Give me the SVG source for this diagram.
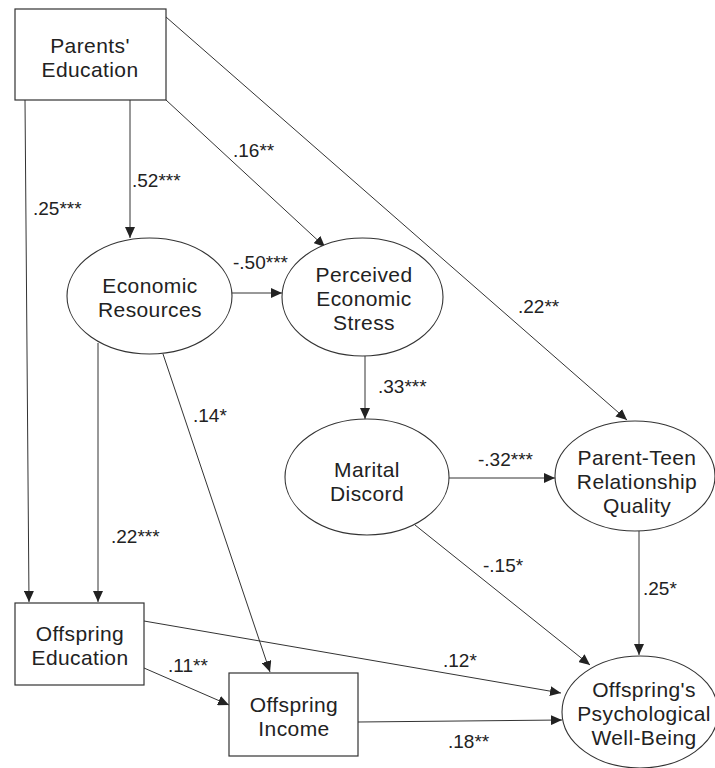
<svg xmlns="http://www.w3.org/2000/svg" width="715" height="768" viewBox="0 0 715 768">
<style>
.box{fill:#fff;stroke:#333;stroke-width:1.2}
.ell{fill:#fff;stroke:#333;stroke-width:1.1}
.nt{font-family:"Liberation Sans",Arial,sans-serif;font-size:21px;letter-spacing:0.4px;fill:#222;text-anchor:middle}
.lb{font-family:"Liberation Sans",Arial,sans-serif;font-size:19px;fill:#222}
.cn line{stroke:#333;stroke-width:1;marker-end:url(#ah)}
</style>
<defs>
<marker id="ah" markerUnits="userSpaceOnUse" markerWidth="12" markerHeight="10" refX="11" refY="5" orient="auto">
<path d="M0,0 L11,5 L0,10 Z" fill="#222"/>
</marker>
</defs>
<rect width="715" height="768" fill="#fff"/>
<g id="connectors" class="cn">
<line x1="25" y1="100" x2="29" y2="602"/>
<line x1="130" y1="100" x2="130" y2="238"/>
<line x1="166" y1="100" x2="325" y2="247"/>
<line x1="166" y1="17" x2="627" y2="420"/>
<line x1="232" y1="293" x2="282" y2="293"/>
<line x1="98" y1="343" x2="98" y2="602"/>
<line x1="163" y1="354" x2="270" y2="672"/>
<line x1="365" y1="356" x2="365" y2="419"/>
<line x1="449" y1="478" x2="555" y2="478"/>
<line x1="415" y1="525" x2="590" y2="665"/>
<line x1="639" y1="531" x2="639" y2="655"/>
<line x1="144" y1="668" x2="229" y2="705"/>
<line x1="144" y1="621" x2="561" y2="693"/>
<line x1="358" y1="722" x2="562" y2="720"/>
</g>
<g id="labels">
<text class="lb" x="33" y="215">.25***</text>
<text class="lb" x="132" y="187">.52***</text>
<text class="lb" x="233" y="157">.16**</text>
<text class="lb" x="233" y="269">-.50***</text>
<text class="lb" x="518" y="313">.22**</text>
<text class="lb" x="193" y="422">.14*</text>
<text class="lb" x="378" y="393">.33***</text>
<text class="lb" x="478" y="466">-.32***</text>
<text class="lb" x="111" y="543">.22***</text>
<text class="lb" x="643" y="595">.25*</text>
<text class="lb" x="483" y="572">-.15*</text>
<text class="lb" x="168" y="672">.11**</text>
<text class="lb" x="443" y="667">.12*</text>
<text class="lb" x="448" y="748">.18**</text>
</g>
<g id="parents-education">
<rect class="box" x="15" y="9" width="151" height="91"/>
<text class="nt" x="90" y="53">Parents'</text>
<text class="nt" x="90" y="77">Education</text>
</g>
<g id="economic-resources">
<ellipse class="ell" cx="149.5" cy="296" rx="82.5" ry="58"/>
<text class="nt" x="150" y="293">Economic</text>
<text class="nt" x="150" y="317">Resources</text>
</g>
<g id="perceived-economic-stress">
<ellipse class="ell" cx="362.5" cy="297" rx="80.5" ry="59"/>
<text class="nt" x="364" y="282">Perceived</text>
<text class="nt" x="364" y="306">Economic</text>
<text class="nt" x="364" y="330">Stress</text>
</g>
<g id="marital-discord">
<ellipse class="ell" cx="367" cy="477" rx="82" ry="58"/>
<text class="nt" x="367" y="477">Marital</text>
<text class="nt" x="367" y="501">Discord</text>
</g>
<g id="parent-teen-relationship-quality">
<ellipse class="ell" cx="635" cy="476" rx="80" ry="55"/>
<text class="nt" x="637" y="465">Parent-Teen</text>
<text class="nt" x="637" y="489">Relationship</text>
<text class="nt" x="637" y="513">Quality</text>
</g>
<g id="offspring-education">
<rect class="box" x="15" y="603" width="129" height="82"/>
<text class="nt" x="80" y="641">Offspring</text>
<text class="nt" x="80" y="665">Education</text>
</g>
<g id="offspring-income">
<rect class="box" x="229" y="673" width="129" height="83"/>
<text class="nt" x="294" y="712">Offspring</text>
<text class="nt" x="294" y="736">Income</text>
</g>
<g id="offspring-well-being">
<ellipse class="ell" cx="640" cy="712" rx="78" ry="56"/>
<text class="nt" x="644" y="697">Offspring's</text>
<text class="nt" x="644" y="721">Psychological</text>
<text class="nt" x="644" y="745">Well-Being</text>
</g>
</svg>
